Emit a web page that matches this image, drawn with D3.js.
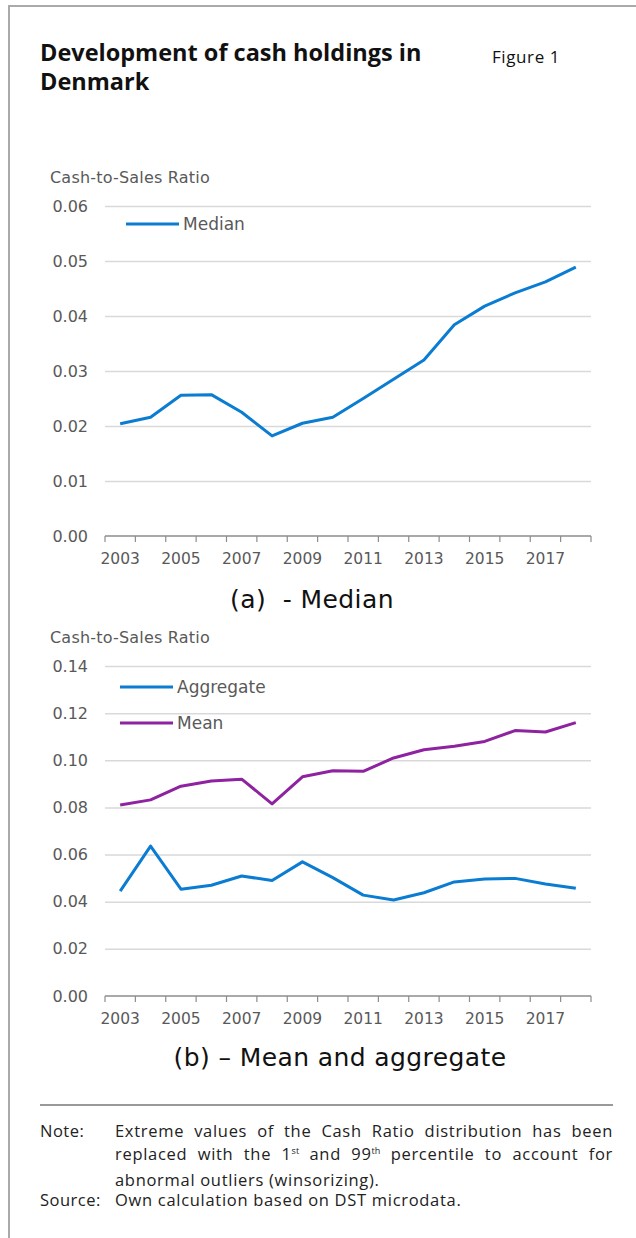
<!DOCTYPE html>
<html>
<head>
<meta charset="utf-8">
<script src="https://cdn.jsdelivr.net/npm/d3@7"></script>
<style>
  body { margin: 0; background: #fff; }
  #wrap { position: relative; width: 636px; height: 1238px; overflow: hidden; }
  svg { position: absolute; left: 0; top: 0; }
  .note {
    position: absolute; left: 40px; width: 573px;
    font-family: "Open Sans", sans-serif; font-size: 16.5px; letter-spacing: 0.7px;
    color: #222; line-height: 23px;
  }
  .note .lab { position: absolute; left: 0; top: 0; letter-spacing: 0.5px; }
  .note .txt { margin-left: 75px; text-align: justify; }
  .note .sup { font-size: 9px; position: relative; top: -6px; letter-spacing: 0; }
</style>
</head>
<body>
<div id="wrap"></div>
<script>
const years = d3.range(2003, 2019);
const yearLabels = ["2003", "2005", "2007", "2009", "2011", "2013", "2015", "2017"];

const median = [0.0204, 0.0216, 0.0256, 0.0257, 0.0225, 0.0182, 0.0205, 0.0216,
  0.0250, 0.0285, 0.0320, 0.0384, 0.0418, 0.0442, 0.0462, 0.0489];
const mean = [0.0810, 0.0832, 0.0890, 0.0912, 0.0920, 0.0815, 0.0930, 0.0956,
  0.0953, 0.1010, 0.1045, 0.1060, 0.1080, 0.1126, 0.1120, 0.1160];
const aggregate = [0.0445, 0.0636, 0.0453, 0.0470, 0.0509, 0.0490, 0.0569, 0.0502,
  0.0428, 0.0407, 0.0438, 0.0484, 0.0496, 0.0499, 0.0475, 0.0457];

const medianTicks = [0, 0.01, 0.02, 0.03, 0.04, 0.05, 0.06];
const meanTicks = [0, 0.02, 0.04, 0.06, 0.08, 0.10, 0.12, 0.14];

const blue = "#0a7cd2";
const purple = "#8f22a0";
const chartFont = "'DejaVu Sans', sans-serif";

const width = 636, height = 1238;
const wrap = d3.select("#wrap");
const svg = wrap.append("svg").attr("width", width).attr("height", height);

// frame
svg.append("path")
  .attr("d", `M9,${height} V6 H${width}`)
  .attr("fill", "none").attr("stroke", "#aaa").attr("stroke-width", 2);

// title
const title = svg.append("text")
  .attr("font-family", "'Open Sans', sans-serif")
  .attr("font-weight", 700).attr("font-size", 23.5).attr("fill", "#111");
title.append("tspan").attr("x", 40).attr("y", 61).text("Development of cash holdings in");
title.append("tspan").attr("x", 40).attr("y", 90).text("Denmark");

svg.append("text").attr("x", 492).attr("y", 63)
  .attr("font-family", "'Open Sans', sans-serif").attr("font-size", 17)
  .attr("letter-spacing", 0.6).attr("fill", "#111")
  .text("Figure 1");

const x = d3.scaleBand().domain(years).range([105, 591]);

function panel({ top, bottom, ticks, series, legendY, caption, captionX, captionY }) {
  const y = d3.scaleLinear().domain([0, ticks[ticks.length - 1]]).range([bottom, top]);
  const g = svg.append("g");

  g.append("text").attr("x", 50).attr("y", top - 23)
    .attr("font-family", chartFont).attr("font-size", 16).attr("letter-spacing", 0.2)
    .attr("fill", "#595959")
    .text("Cash-to-Sales Ratio");

  // gridlines + y labels
  const yAxis = g.append("g").attr("transform", "translate(105,0)")
    .call(d3.axisLeft(y).tickValues(ticks).tickFormat(d3.format(".2f")).tickSize(0).tickPadding(17));
  yAxis.select(".domain").remove();
  yAxis.selectAll("text").attr("font-family", chartFont).attr("font-size", 16).attr("fill", "#595959");
  yAxis.selectAll(".tick").filter(d => d > 0).append("line")
    .attr("x2", 486).attr("stroke", "#d9d9d9").attr("stroke-width", 1.5);

  // x axis with ticks at band boundaries
  const xAxis = g.append("g").attr("transform", `translate(0,${bottom})`);
  xAxis.append("line").attr("x1", 105).attr("x2", 591)
    .attr("stroke", "#8c8c8c").attr("stroke-width", 1.5);
  xAxis.selectAll(".bt").data(years.concat([2019])).join("line")
    .attr("x1", d => d === 2019 ? 591 : x(d)).attr("x2", d => d === 2019 ? 591 : x(d))
    .attr("y2", 6).attr("stroke", "#8c8c8c").attr("stroke-width", 1.2);
  xAxis.selectAll("text").data(yearLabels).join("text")
    .attr("x", d => x(+d) + x.bandwidth() / 2).attr("y", 28)
    .attr("text-anchor", "middle")
    .attr("font-family", chartFont).attr("font-size", 15.5).attr("fill", "#595959")
    .text(d => d);

  const line = d3.line().x((d, i) => x(years[i]) + x.bandwidth() / 2).y(d => y(d));
  series.forEach((s, k) => {
    g.append("path").datum(s.values).attr("d", line)
      .attr("fill", "none").attr("stroke", s.color).attr("stroke-width", 3)
      .attr("stroke-linejoin", "round");
    const ly = legendY[k];
    g.append("line").attr("x1", s.lx).attr("x2", s.lx + 53).attr("y1", ly).attr("y2", ly)
      .attr("stroke", s.color).attr("stroke-width", 3);
    g.append("text").attr("x", s.lx + 57).attr("y", ly + 6)
      .attr("font-family", chartFont).attr("font-size", 17).attr("fill", "#595959")
      .text(s.name);
  });

  svg.append("text").attr("x", captionX).attr("y", captionY).attr("text-anchor", "middle")
    .attr("font-family", chartFont).attr("font-size", 25).attr("letter-spacing", 0.4)
    .attr("fill", "#111")
    .attr("xml:space", "preserve")
    .text(caption);
}

panel({
  top: 206, bottom: 536, ticks: medianTicks,
  series: [{ name: "Median", values: median, color: blue, lx: 126 }],
  legendY: [224], caption: "(a)  - Median", captionX: 312, captionY: 608
});

panel({
  top: 666, bottom: 996, ticks: meanTicks,
  series: [
    { name: "Aggregate", values: aggregate, color: blue, lx: 120 },
    { name: "Mean", values: mean, color: purple, lx: 120 }
  ],
  legendY: [687, 723], caption: "(b) \u2013 Mean and aggregate", captionX: 340, captionY: 1066
});

// footer rule
svg.append("line").attr("x1", 40).attr("x2", 613).attr("y1", 1105).attr("y2", 1105)
  .attr("stroke", "#999").attr("stroke-width", 2);

const note = wrap.append("div").attr("class", "note").style("top", "1119px");
note.append("div").attr("class", "lab").text("Note:");
note.append("div").attr("class", "txt")
  .html("Extreme values of the Cash Ratio distribution has been replaced with the 1<span class=\"sup\">st</span> and 99<span class=\"sup\">th</span> percentile to account for abnormal outliers (winsorizing).");
const src = wrap.append("div").attr("class", "note").style("top", "1188px");
src.append("div").attr("class", "lab").text("Source:");
src.append("div").attr("class", "txt").text("Own calculation based on DST microdata.");
</script>
</body>
</html>
